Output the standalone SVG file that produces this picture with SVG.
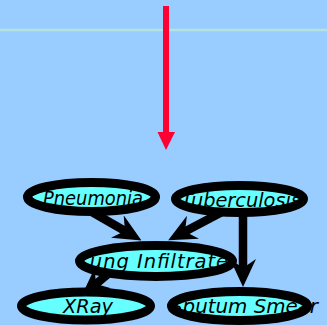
<svg xmlns="http://www.w3.org/2000/svg" width="327" height="325" viewBox="0 0 327 325">
<defs>
<style>
.bg{fill:#99ccff}
.rule{stroke:#b5e3dc;stroke-width:2.5}
.fillE{fill:#66ffff;stroke:none}
.ring{fill:none;stroke:#000;stroke-width:9}
.lbl{font-family:"DejaVu Sans","Verdana",sans-serif;font-style:italic;font-size:19.5px;fill:#000;text-anchor:middle}
.edge{stroke:#000;stroke-width:8.5;fill:none;marker-end:url(#ah)}
</style>
<marker id="ah" markerUnits="userSpaceOnUse" markerWidth="28" markerHeight="26" viewBox="0 0 28 26" refX="9" refY="13" orient="auto">
<path d="M28,13 L0,0 L9,13 L0,26 Z" fill="#000"/>
</marker>
</defs>
<rect class="bg" x="0" y="0" width="327" height="325"/>
<line class="rule" x1="0" y1="30" x2="327" y2="30"/>
<g id="focus-arrow">
<line x1="166" y1="6" x2="166" y2="134" stroke="#ff0033" stroke-width="6"/>
<polygon points="157.5,132 175,132 166,150" fill="#ff0033"/>
</g>
<g id="edges">
<line class="edge" x1="85" y1="208" x2="125" y2="231"/>
<line class="edge" x1="222" y1="212" x2="185" y2="231.5"/>
<line class="edge" x1="243" y1="205" x2="243" y2="268"/>
<line class="edge" x1="120" y1="264" x2="96" y2="284"/>
</g>
<g id="pneumonia">
<ellipse class="fillE" cx="91.5" cy="197" rx="64" ry="14.5"/>
<text class="lbl" x="93" y="205" textLength="100" lengthAdjust="spacingAndGlyphs">Pneumonia</text>
<ellipse class="ring" cx="91.5" cy="197" rx="64" ry="14.5"/>
</g>
<g id="tuberculosis">
<ellipse class="fillE" cx="239.5" cy="199" rx="64" ry="13.5"/>
<text class="lbl" x="241" y="207" textLength="120" lengthAdjust="spacingAndGlyphs">Tuberculosis</text>
<ellipse class="ring" cx="239.5" cy="199" rx="64" ry="13.5"/>
</g>
<g id="lung-infiltrate">
<ellipse class="fillE" cx="156" cy="261" rx="76.5" ry="15.5"/>
<text class="lbl" x="153" y="268" textLength="150" lengthAdjust="spacing">Lung Infiltrate</text>
<ellipse class="ring" cx="156" cy="261" rx="76.5" ry="15.5"/>
</g>
<g id="xray">
<ellipse class="fillE" cx="86" cy="306" rx="64.5" ry="14"/>
<text class="lbl" x="88" y="313" textLength="50" lengthAdjust="spacingAndGlyphs">XRay</text>
<ellipse class="ring" cx="86" cy="306" rx="64.5" ry="14"/>
</g>
<g id="sputum-smear">
<ellipse class="fillE" cx="239.5" cy="306" rx="68" ry="14.5"/>
<text class="lbl" x="244" y="313" textLength="148" lengthAdjust="spacingAndGlyphs">Sputum Smear</text>
<ellipse class="ring" cx="239.5" cy="306" rx="68" ry="14.5"/>
</g>
</svg>
